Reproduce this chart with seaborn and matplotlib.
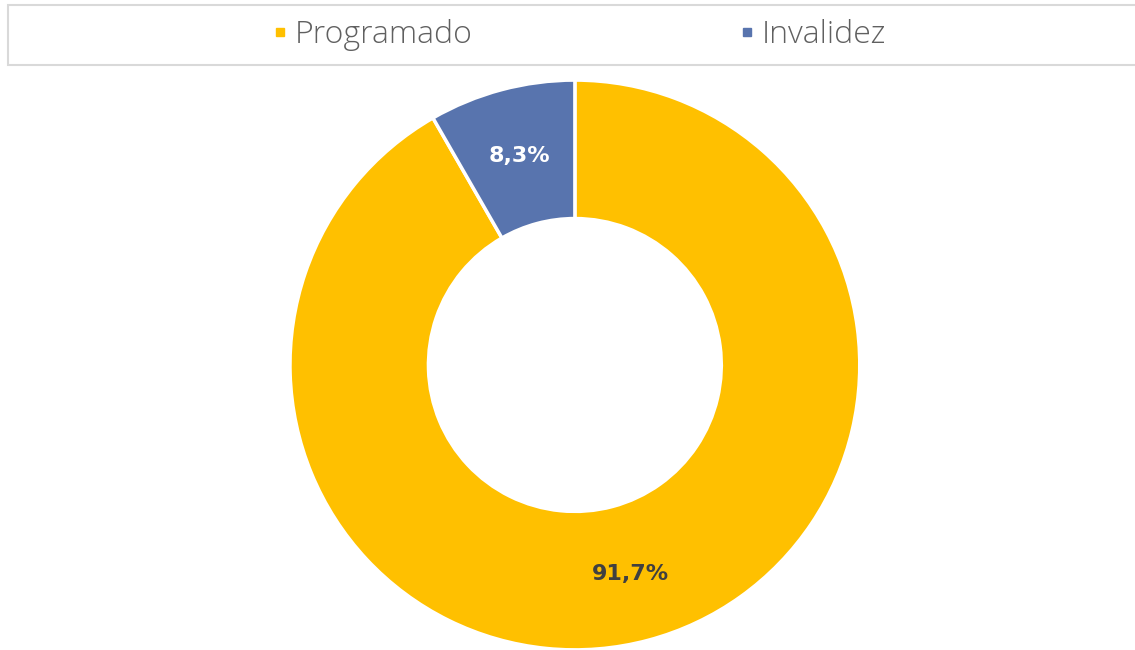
import matplotlib.pyplot as plt
import numpy as np
import seaborn as sns
from matplotlib.lines import Line2D
from matplotlib.patches import Rectangle

categories = ["Programado", "Invalidez"]
shares = [91.7, 8.3]
pct_labels = ["91,7%", "8,3%"]
colors = ["#FFC000", "#5874AE"]
label_colors = ["#404040", "white"]


def main():
    sns.set_theme(style="white")
    plt.rcParams["font.family"] = ["Open Sans", "DejaVu Sans"]

    fig = plt.figure(figsize=(11.35, 6.5), dpi=100)
    ax = fig.add_axes([0.2555, 0.0, 0.502, 0.877])

    wedges, _ = ax.pie(
        shares,
        colors=colors,
        startangle=90,
        counterclock=False,
        radius=1.0,
        wedgeprops=dict(width=0.486, edgecolor="white", linewidth=2.5),
    )
    ax.set_xlim(-1, 1)
    ax.set_ylim(-1, 1)
    ax.set_aspect("equal")
    ax.axis("off")

    # percentage labels in the middle of each ring segment
    for w, txt, c in zip(wedges, pct_labels, label_colors):
        ang = np.deg2rad((w.theta1 + w.theta2) / 2)
        r = 0.76
        ax.text(r * np.cos(ang), r * np.sin(ang), txt, ha="center", va="center",
                fontsize=16, fontweight="bold", color=c, family="DejaVu Sans")

    # legend box on top
    fig.patches.append(Rectangle((8 / 1135, 1 - 65 / 650), 1.0, 60 / 650,
                                 transform=fig.transFigure, facecolor="white",
                                 edgecolor="#D9D9D9", linewidth=1.5))
    handles = [Line2D([], [], marker="s", linestyle="", markersize=6,
                      markerfacecolor=c, markeredgecolor=c) for c in colors]
    fig.legend(handles, categories, loc="center", bbox_to_anchor=(0.510, 1 - 35 / 650),
               ncol=2, frameon=False, prop=dict(size=23, weight="light"),
               labelcolor="#606060", handlelength=0.55, handletextpad=0.2,
               columnspacing=8.3)

    fig.savefig("out.png", dpi=100, facecolor="white")


if __name__ == "__main__":
    main()
